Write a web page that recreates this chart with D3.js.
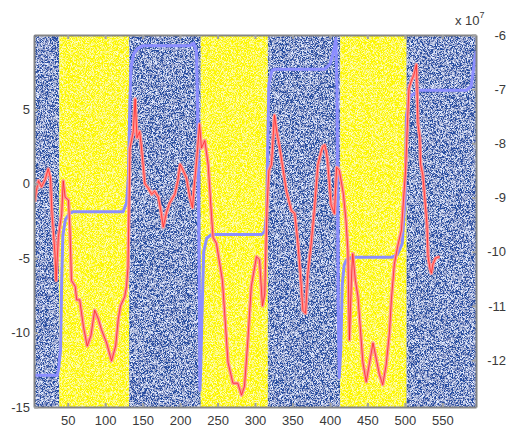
<!DOCTYPE html>
<html>
<head>
<meta charset="utf-8">
<script src="https://cdn.jsdelivr.net/npm/d3@7"></script>
<style>
    body { margin: 0; background: #fff; }
    text { font-family: "Liberation Sans", Arial, sans-serif; }
</style>
</head>
<body>
<svg id="chart" width="507" height="430"></svg>
<script>
// shaded bands (sample index)
var bandStart = [5, 38.8, 132, 227.6, 317.2, 413.7, 502.4]
var bandEnd = [38.8, 132, 227.6, 317.2, 413.7, 502.4, 595]
var bandKind = ['blue', 'yellow', 'blue', 'yellow', 'blue', 'yellow', 'blue']

// red series, left axis
var redX = [6, 8, 11, 15, 20, 24, 27, 29, 33, 34.5, 37.5, 42, 44, 46.5, 51, 53, 55, 60, 62, 66,
    71, 76, 81, 86, 91, 95, 102, 108.5, 114, 117.5, 120.5, 126, 128.5, 130.5, 132, 133, 137.5, 140, 142.5, 146,
    148.5, 153, 157.5, 162, 166, 171, 175, 177.5, 182, 186, 193, 197, 200, 204, 208.5, 213, 216.5, 219.5, 222, 226,
    228.5, 233, 237.5, 242, 244, 248.5, 253, 256.5, 259.5, 264, 270.5, 277, 282, 286, 290.5, 295, 302, 306, 310, 313,
    316, 318.5, 322, 326, 329, 333, 337, 342, 348.5, 353, 357, 360.5, 364, 367.5, 370.5, 375, 379.5, 384, 388.5, 390.5,
    393, 395, 397, 401.5, 406, 409, 412.5, 415, 418, 421.5, 424, 426, 429, 430.5, 434, 437.5, 441, 444, 448.5, 453,
    457.5, 462, 466, 470.5, 475, 479.5, 482, 486, 490.5, 495.5, 498.5, 501, 503, 505.5, 508.5, 512, 515.5, 517.5, 520, 521,
    524, 526.5, 529.5, 531, 534, 535.5, 537.5, 541, 546.5]
var redY = [-1.2, -0.5, 0.2, -0.2, 0.3, 1.0, 0.4, -2.0, -4.7, -6.5, -3.6, -2.0, 0.2, -0.9, -1.1, -3.1, -6.5, -6.9, -7.8, -7.8,
    -9.6, -10.9, -10.2, -8.5, -9.1, -9.8, -10.7, -11.9, -10.9, -9.1, -8.2, -7.6, -6.9, -5.6, -0.9, 2.4, 3.5, 5.7, 3.1, 3.5,
    2.4, 0.0, -0.3, -0.7, -0.5, -0.9, -2.0, -2.9, -1.9, -1.3, -0.7, 0.2, 1.3, 0.9, 0.4, -0.9, -1.6, 0.2, 1.5, 4.0,
    2.4, 2.9, 1.3, -2.2, -3.6, -4.0, -5.4, -6.5, -8.7, -12.0, -13.4, -13.4, -14.2, -13.6, -10.5, -6.9, -4.9, -5.1, -8.2, -7.4,
    -1.6, 0.9, 1.3, 4.6, 3.5, 2.4, 1.1, -0.5, -1.8, -2.0, -3.8, -6.0, -8.5, -8.7, -6.0, -4.0, -1.6, 1.3, 2.2, 2.5,
    2.6, 2.2, 1.5, -1.4, -2.0, 1.1, 0.9, 0.2, -0.7, -2.5, -4.5, -10.5, -6.0, -4.7, -6.5, -7.6, -10.0, -12.0, -13.3, -12.0,
    -10.7, -11.8, -12.8, -13.5, -12.2, -10.0, -7.8, -5.4, -4.2, -3.1, -0.9, 0.9, 3.5, 6.4, 6.9, 7.3, 8.0, 4.0, 3.1, 1.3,
    0.6, -0.9, -2.7, -4.9, -5.8, -6.0, -5.4, -5.0, -4.9]

// blue series, right axis (x 10^7)
var blueX = [5, 36, 38, 40.5, 42, 43.5, 47, 52, 57, 124, 128.5, 131, 133, 134.5, 138, 143, 150, 213, 218, 222,
    224, 225.5, 226.5, 227.5, 229, 231.5, 235.5, 242, 309, 313, 315.5, 317, 318.5, 322.5, 326, 393, 400, 405, 408, 409.5,
    411, 412.5, 414.5, 416.5, 419, 422, 430, 483, 490, 496.5, 500.5, 502, 506, 519, 582, 588.5, 592.5, 595]
var blueY = [-12.28, -12.28, -12.15, -11.8, -10.5, -9.7, -9.4, -9.3, -9.26, -9.26, -9.1, -8.6, -7.2, -6.6, -6.35, -6.25, -6.2, -6.2, -6.15, -6.3,
    -8.0, -10.5, -12.56, -12.2, -11.3, -10.0, -9.75, -9.68, -9.68, -9.62, -9.3, -8.0, -6.9, -6.66, -6.63, -6.63, -6.54, -6.3, -6.07, -7.0,
    -11.0, -12.32, -11.8, -10.6, -10.25, -10.15, -10.1, -10.1, -10.05, -9.85, -9.0, -7.5, -7.15, -7.02, -7.02, -6.95, -6.54, -6.3]

var xTicks = [50, 100, 150, 200, 250, 300, 350, 400, 450, 500, 550]
var leftTicks = [-15, -10, -5, 0, 5]
var rightTicks = [-12, -11, -10, -9, -8, -7, -6]

var margin = { left: 34, right: 31, top: 35, bottom: 23 }
var conf = { width: 507, height: 430 }
var svg = d3.select('#chart')

var x = d3.scaleLinear().domain([5, 595]).range([margin.left, conf.width - margin.right])
var yL = d3.scaleLinear().domain([-15, 10]).range([conf.height - margin.bottom, margin.top])
var yR = d3.scaleLinear().domain([-12.865, -6]).range([conf.height - margin.bottom, margin.top])

var defs = svg.append('defs')
function speckle(id, freq, seed, r, g, b, k, c) {
    var f = defs.append('filter').attr('id', id)
        .attr('x', 0).attr('y', 0).attr('width', 1).attr('height', 1)
    f.append('feTurbulence').attr('type', 'fractalNoise')
        .attr('baseFrequency', freq).attr('numOctaves', 1).attr('seed', seed).attr('result', 'n')
    f.append('feColorMatrix').attr('in', 'n').attr('type', 'matrix')
        .attr('values', `0 0 0 0 ${r}  0 0 0 0 ${g}  0 0 0 0 ${b}  0 0 0 ${k} ${c}`)
        .attr('result', 'dots')
    f.append('feComposite').attr('in', 'dots').attr('in2', 'SourceGraphic')
        .attr('operator', 'in').attr('result', 'sp')
    var m = f.append('feMerge')
    m.append('feMergeNode').attr('in', 'SourceGraphic')
    m.append('feMergeNode').attr('in', 'sp')
}
speckle('spB', 1.8, 4, 0.78, 0.84, 1, 4, -1.65)
speckle('spY', 1.8, 9, 1, 1, 0.6, 3.5, -1.6)

defs.append('clipPath').attr('id', 'plotclip')
    .append('rect')
    .attr('x', x(5)).attr('y', margin.top)
    .attr('width', x(595) - x(5)).attr('height', yL(-15) - margin.top)

// bands
svg.append('g')
    .selectAll('rect')
    .data(bandKind)
    .join('rect')
    .attr('x', (d, i) => x(bandStart[i]))
    .attr('y', margin.top)
    .attr('width', (d, i) => x(bandEnd[i]) - x(bandStart[i]))
    .attr('height', yL(-15) - margin.top)
    .attr('fill', d => d == 'blue' ? '#284ea2' : '#fcf600')
    .attr('filter', d => d == 'blue' ? 'url(#spB)' : 'url(#spY)')

var lines = svg.append('g').attr('clip-path', 'url(#plotclip)')

var blueLine = d3.line()
    .x((d, i) => x(blueX[i]))
    .y(d => yR(d))
lines.append('path')
    .attr('d', blueLine(blueY))
    .attr('fill', 'none')
    .attr('stroke', '#8c8eff')
    .attr('stroke-width', 3)
    .attr('stroke-linejoin', 'round')

var redLine = d3.line()
    .x((d, i) => x(redX[i]))
    .y(d => yL(d))
lines.append('path')
    .attr('d', redLine(redY))
    .attr('fill', 'none')
    .attr('stroke', '#ff9696')
    .attr('stroke-width', 3.5)
    .attr('stroke-linejoin', 'round')
lines.append('path')
    .attr('d', redLine(redY))
    .attr('fill', 'none')
    .attr('stroke', '#ff1a1a')
    .attr('stroke-width', 1)
    .attr('stroke-opacity', 0.7)
    .attr('stroke-linejoin', 'round')

// axes, matlab style ticks inside
var fmt = d => d.toString()
var axis = {
    bottom: d3.axisBottom(x).tickValues(xTicks).tickFormat(fmt).tickSizeInner(-4).tickSizeOuter(0).tickPadding(9),
    top: d3.axisTop(x).tickValues(xTicks).tickSizeInner(-4).tickSizeOuter(0).tickFormat(''),
    left: d3.axisLeft(yL).tickValues(leftTicks).tickFormat(fmt).tickSizeInner(-4).tickSizeOuter(0).tickPadding(4),
    right: d3.axisRight(yR).tickValues(rightTicks).tickFormat(fmt).tickSizeInner(-4).tickSizeOuter(0).tickPadding(30),
}
var g = {
    bottom: svg.append('g').attr('transform', `translate(0,${yL(-15)})`).call(axis.bottom),
    top: svg.append('g').attr('transform', `translate(0,${margin.top})`).call(axis.top),
    left: svg.append('g').attr('transform', `translate(${x(5)},0)`).call(axis.left),
    right: svg.append('g').attr('transform', `translate(${x(595)},0)`).call(axis.right),
}
for (let k in g) {
    g[k].select('.domain').attr('stroke', '#858585').attr('stroke-width', 2)
    g[k].selectAll('.tick line').attr('stroke', '#a0a0a0').attr('stroke-width', 2)
    g[k].selectAll('.tick text')
        .attr('fill', '#3a3a3a')
        .attr('font-size', 13)
        .attr('font-family', '"Liberation Sans", Arial, sans-serif')
}
g.right.selectAll('.tick text').attr('text-anchor', 'end')

// exponent label
var expo = svg.append('text')
    .attr('x', 455)
    .attr('y', 25)
    .attr('fill', '#3a3a3a')
    .attr('font-size', 13)
expo.append('tspan').text('x 10')
expo.append('tspan').attr('dy', -7).attr('font-size', 9).text('7')
</script>
</body>
</html>
